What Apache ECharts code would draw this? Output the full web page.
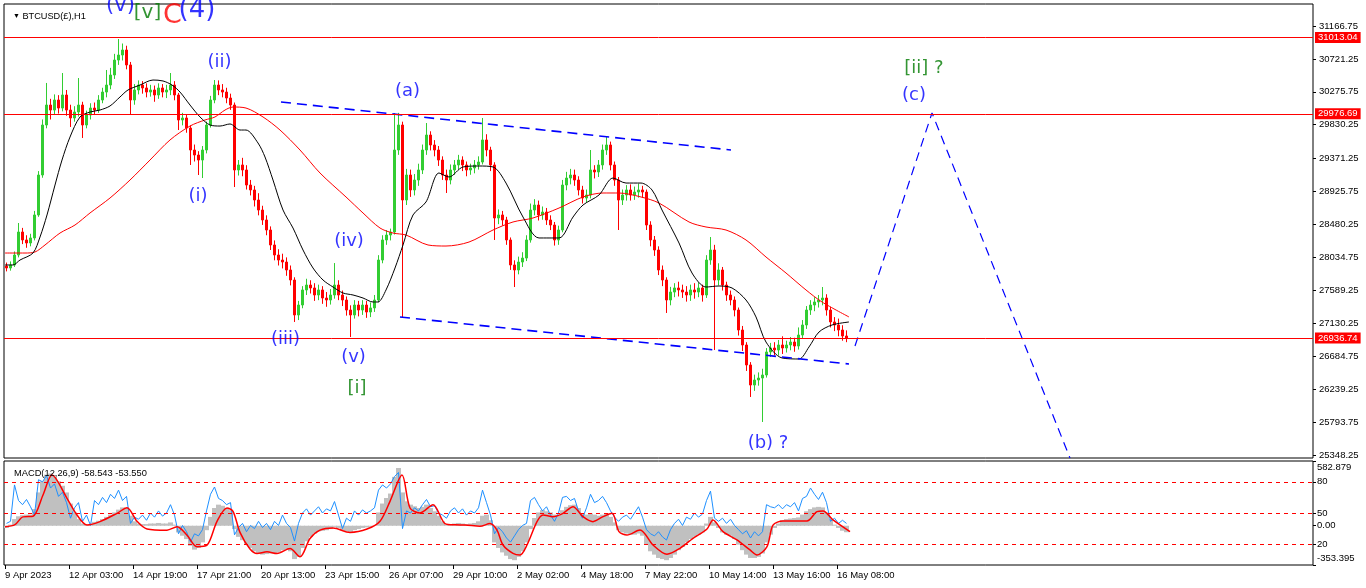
<!DOCTYPE html>
<html><head><meta charset="utf-8">
<script src="https://cdn.jsdelivr.net/npm/echarts@6/dist/echarts.min.js"></script>
<style>html,body{margin:0;padding:0;background:#fff;}#c{width:1366px;height:588px;}</style>
</head><body><div id="c"></div>
<script>
// ---- DATA ----
const barsPerCandle = 4; // each candle groups 4 hourly bars
const candles = [ // [open, close, low, high]
[27913,27886,27840,27960],[27886,27927,27850,27975],[27927,28062,27900,28110],[28062,28374,28030,28496],
[28374,28266,28210,28430],[28266,28225,28160,28330],[28225,28293,28180,28350],[28293,28605,28260,28660],
[28605,29147,28580,29200],[29147,29825,29110,29900],[29825,30096,29780,30395],[30096,30028,29900,30180],
[30028,30164,29960,30240],[30164,30055,29980,30230],[30055,30232,30010,30530],[30232,30028,29950,30300],
[30028,29920,29798,30100],[29920,30001,29870,30080],[30001,30096,29940,30462],[30096,29825,29649,30140],
[29825,29961,29780,30020],[29961,30055,29900,30120],[30055,30028,29960,30130],[30028,30164,29990,30230],
[30164,30272,30120,30330],[30272,30367,30200,30571],[30367,30503,30310,30600],[30503,30706,30450,30790],
[30706,30774,30640,30991],[30774,30842,30700,30930],[30842,30639,30580,30900],[30639,30164,29961,30680],
[30164,30300,30100,30380],[30300,30367,30240,30430],[30367,30327,30250,30420],[30327,30272,30200,30390],
[30272,30300,30210,30370],[30300,30232,30140,30360],[30232,30327,30180,30390],[30327,30272,30200,30380],
[30272,30300,30190,30370],[30300,30367,30230,30530],[30367,30232,30160,30420],[30232,29893,29757,30260],
[29893,29920,29820,29990],[29920,29784,29720,29970],[29784,29486,29283,29820],[29486,29418,29330,29560],
[29418,29350,29147,29470],[29350,29486,29106,29540],[29486,29825,29440,29870],[29825,30164,29790,30220],
[30164,30367,30120,30435],[30367,30300,30230,30430],[30300,30272,30200,30380],[30272,30191,30120,30330],
[30191,30096,30030,30250],[30096,29215,28984,30130],[29215,29283,29140,29350],[29283,29215,29130,29380],
[29215,29011,28950,29280],[29011,28944,28870,29080],[28944,28808,28720,29000],[28808,28672,28600,28900],
[28672,28537,28470,28730],[28537,28401,28330,28600],[28401,28198,28130,28450],[28198,28062,27990,28260],
[28062,27994,27920,28140],[27994,27967,27880,28080],[27967,27859,27780,28030],[27859,27723,27650,27920],
[27723,27249,27154,27760],[27249,27384,27180,27440],[27384,27588,27340,27640],[27588,27655,27520,27740],
[27655,27615,27540,27720],[27615,27520,27440,27680],[27520,27588,27450,27660],[27588,27479,27400,27640],
[27479,27452,27360,27560],[27452,27520,27390,27600],[27520,27655,27470,27953],[27655,27520,27450,27720],
[27520,27452,27370,27580],[27452,27316,27240,27500],[27316,27249,26950,27380],[27249,27384,27200,27450],
[27384,27316,27230,27440],[27316,27384,27250,27450],[27384,27289,27210,27440],[27289,27344,27220,27420],
[27344,27452,27290,27520],[27452,27994,27420,28060],[27994,28266,27950,28330],[28266,28333,28200,28400],
[28333,28374,28260,28420],[28374,29486,28340,29987],[29486,29825,29420,29990],[29825,28808,27221,29870],
[28808,29147,28740,29230],[29147,28944,28850,29220],[28944,29079,28870,29160],[29079,29215,29000,29300],
[29215,29486,29160,29560],[29486,29689,29420,29852],[29689,29554,29480,29740],[29554,29486,29400,29620],
[29486,29350,29270,29540],[29350,29147,29080,29400],[29147,29079,28903,29220],[29079,29215,29020,29290],
[29215,29283,29150,29350],[29283,29350,29220,29420],[29350,29283,29200,29400],[29283,29215,29130,29330],
[29215,29242,29150,29300],[29242,29283,29170,29350],[29283,29323,29220,29400],[29323,29622,29290,29920],
[29622,29486,29400,29700],[29486,29283,29200,29530],[29283,28564,28266,29320],[28564,28605,28480,28680],
[28605,28537,28460,28660],[28537,28266,28200,28580],[28266,27927,27860,28300],[27927,27859,27628,27990],
[27859,27967,27800,28040],[27967,28021,27900,28100],[28021,28266,27980,28330],[28266,28672,28230,28760],
[28672,28740,28600,28820],[28740,28605,28530,28800],[28605,28645,28540,28720],[28645,28537,28470,28700],
[28537,28469,28400,28600],[28469,28266,28190,28510],[28266,28401,28200,28460],[28401,29011,28370,29080],
[29011,29106,28940,29190],[29106,29147,29020,29230],[29147,29079,29000,29220],[29079,28944,28870,29130],
[28944,28835,28760,29000],[28835,28876,28770,28950],[28876,29215,28830,29486],[29215,29188,29100,29280],
[29188,29283,29120,29350],[29283,29486,29220,29560],[29486,29554,29420,29662],[29554,29283,29210,29600],
[29283,29079,29000,29330],[29079,28808,28401,29120],[28808,28876,28740,28950],[28876,28944,28800,29010],
[28944,28876,28800,29020],[28876,28916,28810,28990],[28916,28944,28840,29030],[28944,28916,28840,29000],
[28916,28469,28401,28950],[28469,28266,28180,28520],[28266,28130,28050,28320],[28130,27859,27790,28180],
[27859,27723,27640,27920],[27723,27452,27276,27760],[27452,27560,27380,27630],[27560,27615,27490,27680],
[27615,27588,27500,27700],[27588,27560,27480,27660],[27560,27520,27430,27640],[27520,27588,27440,27660],
[27588,27560,27470,27680],[27560,27615,27490,27690],[27615,27520,27430,27660],[27520,27994,27480,28060],
[27994,28130,27930,28306],[28130,27723,26774,28200],[27723,27859,27650,27950],[27859,27655,27580,27900],
[27655,27520,27440,27700],[27520,27452,27380,27580],[27452,27316,27230,27500],[27316,27045,26970,27350],
[27045,26842,26760,27100],[26842,26571,26490,26880],[26571,26299,26137,26610],[26299,26367,26220,26440],
[26367,26394,26290,26470],[26394,26435,25798,26520],[26435,26747,26400,26800],[26747,26801,26680,26870],
[26801,26774,26700,26880],[26774,26842,26700,26910],[26842,26801,26720,26960],[26801,26842,26740,26900],
[26842,26882,26770,26950],[26882,26828,26750,26940],[26828,26977,26780,27080],[26977,27113,26930,27180],
[27113,27316,27060,27370],[27316,27384,27250,27450],[27384,27425,27300,27490],[27425,27452,27350,27520],
[27452,27479,27380,27628],[27479,27316,27240,27530],[27316,27154,27080,27360],[27154,27113,27030,27220],
[27113,27045,26960,27200],[27045,26964,26900,27110],[26964,26937,26880,27040]
];
const maFast = [ // [bar, price] black moving average
[0,27927],[8,27927],[15,27994],[28,28089],[35,28306],[42,28605],[50,29011],[57,29350],[65,29662],[75,29934],
[85,30001],[95,30028],[105,30083],[115,30205],[123,30300],[135,30367],[148,30435],[158,30422],[167,30367],[175,30272],
[185,30096],[195,29934],[205,29825],[215,29811],[225,29839],[235,29757],[241,29757],[253,29581],[260,29391],[268,29079],
[278,28672],[288,28428],[298,28130],[308,27886],[318,27723],[328,27628],[338,27547],[348,27520],[358,27479],[368,27425],
[373,27425],[381,27588],[390,27886],[398,28198],[408,28605],[421,28781],[434,29174],[444,29120],[458,29256],[474,29269],
[488,29256],[501,29038],[518,28577],[534,28293],[554,28293],[568,28577],[578,28740],[594,28876],[608,29106],[621,29038],
[636,29038],[647,28944],[657,28672],[674,28225],[687,27818],[701,27628],[714,27642],[727,27615],[741,27452],[751,27222],
[761,26882],[777,26666],[794,26652],[804,26815],[814,27018],[827,27113],[844,27154]
];
const maSlow = [ // [bar, price] red moving average
[0,28089],[20,28089],[30,28103],[40,28198],[55,28360],[70,28469],[85,28632],[105,28835],[125,29079],[145,29350],
[165,29622],[185,29811],[200,29893],[210,29934],[220,30028],[228,30069],[241,30055],[258,29934],[275,29757],[295,29486],
[315,29174],[341,28849],[358,28632],[375,28428],[388,28360],[401,28333],[423,28198],[441,28184],[464,28238],[488,28401],
[508,28510],[528,28564],[554,28699],[578,28849],[598,28903],[614,28903],[636,28849],[654,28767],[684,28510],[701,28442],
[721,28401],[741,28266],[761,28035],[781,27818],[801,27588],[817,27425],[844,27222]
];
const macdHist = [
-20,10,60,85,95,100,100,150,300,400, 460,470,440,400,360,300,200,120,60,20,
10,10,35,45,60,80,100,120,145,165, 160,90,40,20,15,15,20,20,25,20,
20,30,10,-60,-90,-120,-180,-215,-200,-150, -40,80,160,190,180,160,140,-30,-100,-130,
-170,-200,-230,-250,-260,-255,-250,-245,-240,-220, -215,-230,-300,-280,-200,-140,-100,-70,-50,-45,
-40,-30,-10,-20,-40,-50,-60,-40,-30,-20, -15,-10,0,120,200,250,290,440,520,300,
220,190,175,160,170,190,160,130,90,40, 10,15,20,25,20,15,20,25,40,90,
100,50,-150,-200,-240,-270,-300,-310,-280,-230, -150,-30,70,120,140,130,120,100,90,140,
170,185,190,160,110,100,110,100,90,100, 110,80,30,-40,-60,-70,-80,-80,-70,-90,
-170,-230,-260,-290,-300,-310,-290,-260,-220,-190, -150,-120,-100,-80,-60,20,80,30,-20,-60,
-80,-90,-120,-170,-220,-260,-290,-290,-280,-250, -150,-80,-20,20,50,60,65,70,75,100,
130,150,165,170,165,120,60,10,-20,-45,-58.5
];
const macdSignal = [ // [bar, value]
[0,-10],[10,10],[18,80],[28,85],[38,277],[47,457],[62,247],[72,97],[82,7],[95,37],[112,112],[122,162],[132,40],[142,-29],
[162,-40],[172,-10],[182,-85],[192,-188],[202,-175],[212,40],[222,160],[228,130],[235,-60],[245,-210],[252,-250],[262,-235],
[272,-250],[285,-205],[295,-280],[305,-115],[315,-40],[328,-20],[345,-60],[362,-30],[375,40],[385,220],[397,457],[405,160],
[415,115],[428,190],[440,20],[450,8],[460,7],[475,-5],[485,20],[492,-40],[498,-173],[508,-248],[515,-263],[522,-173],
[532,37],[538,97],[548,82],[558,112],[568,172],[578,82],[588,37],[598,82],[607,112],[614,-53],[622,-83],[635,-38],
[648,-173],[662,-257],[675,-203],[688,-113],[702,-29],[708,52],[718,-53],[732,-128],[745,-218],[752,-263],[762,-188],
[768,5],[778,43],[802,43],[812,127],[818,133],[828,52],[845,-53.5]
];
const oscLine = [
40,42,77,62,58,63,56,48,82,80, 86,74,78,66,70,60,45,55,60,42,
48,38,62,58,65,60,68,64,72,62, 66,40,46,44,48,43,50,46,52,47,
50,58,48,30,38,32,22,30,28,34, 52,68,75,64,62,58,60,29,36,40,
32,38,35,42,36,40,34,42,38,48, 40,36,23,40,50,54,48,52,56,50,
54,52,61,48,35,45,42,52,48,53, 50,52,55,72,77,74,78,85,89,35,
52,50,55,52,58,63,56,57,50,48, 45,52,55,50,54,48,52,50,55,72,
60,48,30,36,32,26,22,28,34,38, 40,62,65,58,52,56,48,42,50,65,
66,62,64,52,45,55,68,60,62,66, 60,52,46,42,46,48,44,50,56,46,
34,30,28,32,27,24,34,40,44,38, 46,44,50,46,49,62,71,45,42,45,
40,44,38,34,30,33,26,32,28,32, 58,56,55,58,54,58,56,60,52,64,
66,74,68,63,70,60,42,45,40,43,40
];
const priceTicks = [31166.75,30721.25,30275.75,29830.25,29371.25,28925.75,28480.25,28034.75,27589.25,27130.25,26684.75,26239.25,25793.75,25348.25];
const timeTickBars = [0,64,128,192,256,320,384,448,512,576,640,704,768,832];
const timeTickLabels = ['9 Apr 2023','12 Apr 03:00','14 Apr 19:00','17 Apr 21:00','20 Apr 13:00','23 Apr 15:00','26 Apr 07:00','29 Apr 10:00','2 May 02:00','4 May 18:00','7 May 22:00','10 May 14:00','13 May 16:00','16 May 08:00'];
const levelPrices = [31013.04, 29976.69, 26936.74];
const oscLevels = [80, 50, 20];
const macdMax = 582.879, macdMin = -353.395;
const channelUpper = [[276,30137],[726,29486]];
const channelLower = [[395,27221],[844,26584]];
const projection = [[850,26828],[927,29988],[1065,25309]];
const waveLabels = [ // [text, bar, price, kind]
['(v)',115.5,31439,'blueTop'],['[v]',142.5,31344,'greenTop'],['C',167.5,31303,'redTop'],['(4)',192,31384,'blueBig'],
['(ii)',214.5,30673,'blue'],['(i)',193,28862,'blue'],['(iii)',280.5,26923,'blue'],['(iv)',344,28252,'blue'],
['(v)',348.5,26679,'blue'],['[i]',352,26259,'green'],['(a)',402.5,30286,'blue'],['(b) ?',763,25513,'blue'],
['(c)',909,30232,'blue'],['[ii] ?',919,30598,'green']
];

// ---- STYLES ----
const FONT = 'Liberation Sans';
const labelStyles = {
  blue: {color:'#0000ff', fontSize:18},
  green: {color:'#007a00', fontSize:18},
  blueTop: {color:'#0000ff', fontSize:21},
  greenTop: {color:'#007a00', fontSize:20},
  redTop: {color:'#ff0000', fontSize:27},
  blueBig: {color:'#0000ff', fontSize:26}
};
const channelDash = {color:'#0000ff', width:1.6, type:[10,6]};
const projDash = {color:'#0000ff', width:1.2, type:[9,6]};
const axisFont = {fontSize:9.5, color:'#000', fontFamily:FONT};

const chart = echarts.init(document.getElementById('c'), null, {renderer:'canvas'});
const xBase = {type:'value', min:-1, max:1308, splitLine:{show:false}};
const candleX = k => k * barsPerCandle + (barsPerCandle - 1) / 2;

chart.setOption({
  animation:false,
  backgroundColor:'#ffffff',
  title:[
    {text:'{a|▼} BTCUSD(£),H1', left:8, top:7, textStyle:{fontSize:9.2, fontWeight:'normal', color:'#000', fontFamily:FONT, rich:{a:{fontSize:7, color:'#000'}}}},
    {text:'MACD(12,26,9) -58.543 -53.550', left:9, top:464, textStyle:{fontSize:9.3, fontWeight:'normal', color:'#000', fontFamily:FONT}}
  ],
  grid:[
    {left:4, top:4, width:1309, height:454, show:true, borderColor:'#000', borderWidth:1, backgroundColor:'rgba(0,0,0,0)', containLabel:false, outerBoundsMode:'none'},
    {left:4, top:461, width:1309, height:104, show:true, borderColor:'#000', borderWidth:1, backgroundColor:'rgba(0,0,0,0)', containLabel:false, outerBoundsMode:'none'}
  ],
  xAxis:[
    Object.assign({gridIndex:0, show:false, axisLine:{show:false, onZero:false}}, xBase),
    Object.assign({gridIndex:1,
      axisLine:{show:false, onZero:false},
      axisTick:{show:true, inside:false, length:4, customValues:timeTickBars, lineStyle:{color:'#000'}},
      axisLabel:Object.assign({customValues:timeTickBars, formatter:v=>timeTickLabels[timeTickBars.indexOf(v)], align:'left', margin:5}, axisFont)
    }, xBase)
  ],
  yAxis:[
    {gridIndex:0, type:'value', position:'right', min:25309.5, max:31465.8, scale:true, splitLine:{show:false}, axisLine:{show:false, onZero:false},
     axisTick:{show:true, inside:false, length:3, customValues:priceTicks, lineStyle:{color:'#000'}},
     axisLabel:Object.assign({customValues:priceTicks, formatter:v=>v.toFixed(2), margin:6}, axisFont)},
    {gridIndex:1, type:'value', position:'right', min:macdMin, max:macdMax, splitLine:{show:false}, axisLine:{show:false, onZero:false},
     axisTick:{show:true, inside:false, length:3, customValues:[macdMax,0,macdMin], lineStyle:{color:'#000'}},
     axisLabel:Object.assign({customValues:[macdMax,0,macdMin], margin:4,
       formatter:v=>Math.abs(v-macdMax)<1e-6?'{t|582.879}':(Math.abs(v-macdMin)<1e-6?'{b|-353.395}':v.toFixed(2)),
       rich:{t:Object.assign({padding:[13,0,0,0]}, axisFont), b:Object.assign({padding:[0,0,13,0]}, axisFont)}}, axisFont)},
    {gridIndex:1, type:'value', position:'right', min:0, max:100, splitLine:{show:false}, axisLine:{show:false, onZero:false},
     axisTick:{show:true, inside:false, length:3, customValues:oscLevels, lineStyle:{color:'#000'}},
     axisLabel:Object.assign({customValues:oscLevels, formatter:v=>String(v), margin:4}, axisFont)}
  ],
  series:[
    {type:'candlestick', xAxisIndex:0, yAxisIndex:0,
     dimensions:['bar','open','close','low','high'], encode:{x:'bar', y:['open','close','low','high']},
     data:candles.map((c,k)=>[candleX(k)].concat(c)),
     barWidth:3,
     itemStyle:{color:'#32cd32', color0:'#ff0000', borderColor:'#32cd32', borderColor0:'#ff0000', borderWidth:1},
     markLine:{symbol:'none', silent:true, animation:false,
       lineStyle:{color:'#ff0000', width:1, type:'solid'},
       label:{position:'end', formatter:p=>Number(p.value).toFixed(2), color:'#fff', backgroundColor:'#ff0000', padding:[1,3,0,3], fontSize:9.5, fontFamily:FONT, distance:2},
       data:levelPrices.map(v=>({yAxis:v}))}
    },
    {type:'line', xAxisIndex:0, yAxisIndex:0, data:maSlow, showSymbol:false, smooth:0.3, lineStyle:{color:'#ff0000', width:1}, silent:true},
    {type:'line', xAxisIndex:0, yAxisIndex:0, data:maFast, showSymbol:false, smooth:0.3, lineStyle:{color:'#000000', width:1}, silent:true},
    {type:'line', xAxisIndex:0, yAxisIndex:0, data:channelUpper, showSymbol:false, lineStyle:channelDash, silent:true},
    {type:'line', xAxisIndex:0, yAxisIndex:0, data:channelLower, showSymbol:false, lineStyle:channelDash, silent:true},
    {type:'line', xAxisIndex:0, yAxisIndex:0, data:projection, showSymbol:false, lineStyle:projDash, silent:true, clip:true},
    {type:'scatter', xAxisIndex:0, yAxisIndex:0, symbol:'circle', symbolSize:1, itemStyle:{color:'rgba(255,255,255,0)'}, clip:false, silent:true, z:10,
     data:waveLabels.map(w=>({value:[w[1],w[2]], label:Object.assign({show:true, position:'inside', formatter:w[0], fontFamily:'DejaVu Sans'}, labelStyles[w[3]])}))},
    {type:'bar', xAxisIndex:1, yAxisIndex:1, data:macdHist.map((v,k)=>[candleX(k), v]), barWidth:5, itemStyle:{color:'#c0c0c0'}, silent:true},
    {type:'line', xAxisIndex:1, yAxisIndex:2, data:oscLine.map((v,k)=>[candleX(k), v]), showSymbol:false, lineStyle:{color:'#1e90ff', width:1}, silent:true,
     markLine:{symbol:'none', silent:true, animation:false, label:{show:false}, lineStyle:{color:'#ff0000', width:1, type:[4,4]}, data:oscLevels.map(v=>({yAxis:v}))}},
    {type:'line', xAxisIndex:1, yAxisIndex:1, data:macdSignal, showSymbol:false, smooth:0.3, lineStyle:{color:'#ff0000', width:1.5}, silent:true}
  ]
});
</script></body></html>
